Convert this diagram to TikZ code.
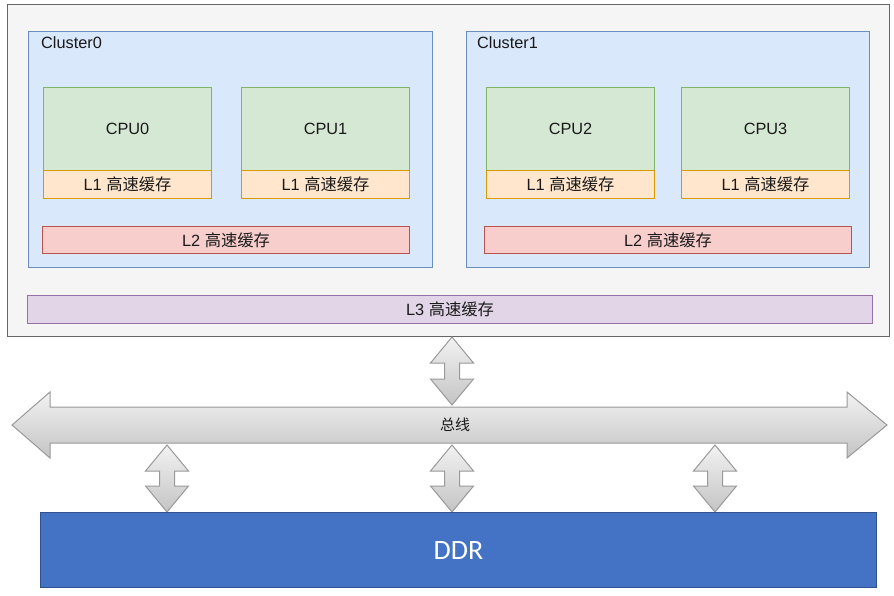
\documentclass[tikz,border=0pt]{standalone}
\usepackage{fontspec}
\setmainfont{Liberation Sans}
\newfontfamily\cjkfont{Noto Sans CJK SC}
\newfontfamily\ddrfont{Carlito}
\usetikzlibrary{positioning}
\definecolor{outerfill}{HTML}{F5F5F5}
\definecolor{outerline}{HTML}{666666}
\definecolor{clfill}{HTML}{DAE8FC}
\definecolor{clline}{HTML}{6C8EBF}
\definecolor{cpufill}{HTML}{D5E8D4}
\definecolor{cpuline}{HTML}{82B366}
\definecolor{lonefill}{HTML}{FFE6CC}
\definecolor{loneline}{HTML}{D79B00}
\definecolor{ltwofill}{HTML}{F8CECC}
\definecolor{ltwoline}{HTML}{B85450}
\definecolor{lthreefill}{HTML}{E1D5E7}
\definecolor{lthreeline}{HTML}{9673A6}
\definecolor{ddrfill}{HTML}{4472C4}
\definecolor{ddrline}{HTML}{2F528F}
\definecolor{arrline}{HTML}{999999}
\definecolor{arrtop}{HTML}{F2F2F2}
\definecolor{arrbot}{HTML}{C4C4C4}
\definecolor{txt}{HTML}{1A1A1A}
\tikzset{
  boxbase/.style={rectangle, anchor=north west, inner sep=0pt, line width=1.1pt, text=txt, font=\fontsize{16.3}{18}\selectfont},
  outerbox/.style={boxbase, fill=outerfill, draw=outerline},
  clusterbox/.style={boxbase, fill=clfill, draw=clline},
  cpubox/.style={boxbase, fill=cpufill, draw=cpuline, minimum width=168pt, minimum height=83pt},
  lonebox/.style={boxbase, fill=lonefill, draw=loneline, minimum width=168pt, minimum height=28pt},
  ltwobox/.style={boxbase, fill=ltwofill, draw=ltwoline, minimum width=367pt, minimum height=27pt},
  lthreebox/.style={boxbase, fill=lthreefill, draw=lthreeline, minimum width=845pt, minimum height=28pt},
  ddrbox/.style={boxbase, fill=ddrfill, draw=ddrline, text=white, font=\ddrfont\fontsize{28}{32}\selectfont},
  arrowshape/.style={draw=arrline, line width=1pt, top color=arrtop, bottom color=arrbot, line join=miter},
  cltext/.style={anchor=north west, inner sep=0pt, text=txt, font=\fontsize{16.3}{18}\selectfont},
}
\newcommand{\cj}[1]{{\cjkfont #1}}
\newcommand{\vdarrow}[3]{% x, ytop, ybottom
  \path[arrowshape] (#1,#2) -- (#1+21.5,#2+26) -- (#1+7.5,#2+26) -- (#1+7.5,#3-26) -- (#1+21.5,#3-26)
    -- (#1,#3) -- (#1-21.5,#3-26) -- (#1-7.5,#3-26) -- (#1-7.5,#2+26) -- (#1-21.5,#2+26) -- cycle;}
\begin{document}
\begin{tikzpicture}[x=1pt,y=-1pt]
\useasboundingbox (0,0) rectangle (894,595);
% outer
\node[outerbox, minimum width=882pt, minimum height=332pt] (outer) at (7,4) {};
% clusters
\node[clusterbox, minimum width=404pt, minimum height=236pt] (cl0) at (28,31) {};
\node[clusterbox, minimum width=403pt, minimum height=236pt] (cl1) at (466,31) {};
\node[cltext] (cl0t) at (41,36.5) {Cluster0};
\node[cltext] (cl1t) at (477,36.5) {Cluster1};
% CPUs
\node[cpubox] (cpu0) at (43,87) {\raisebox{1pt}{CPU0}};
\node[cpubox] (cpu1) at (241,87) {\raisebox{1pt}{CPU1}};
\node[cpubox] (cpu2) at (486,87) {\raisebox{1pt}{CPU2}};
\node[cpubox] (cpu3) at (681,87) {\raisebox{1pt}{CPU3}};
\node[lonebox] (l10) at (43,170) {L1 \cj{高速缓存}};
\node[lonebox] (l11) at (241,170) {L1 \cj{高速缓存}};
\node[lonebox] (l12) at (486,170) {L1 \cj{高速缓存}};
\node[lonebox] (l13) at (681,170) {L1 \cj{高速缓存}};
% L2
\node[ltwobox] (l20) at (42,226) {L2 \cj{高速缓存}};
\node[ltwobox] (l21) at (484,226) {L2 \cj{高速缓存}};
% L3
\node[lthreebox] (l3) at (27,295) {L3 \cj{高速缓存}};
% bus
\path[arrowshape] (12,425) -- (50,392) -- (50,407) -- (847,407) -- (847,392) -- (887,425)
  -- (847,458) -- (847,443) -- (50,443) -- (50,458) -- cycle;
\node[inner sep=0pt, text=txt, font=\cjkfont\fontsize{15}{17}\selectfont] (bus) at (455,425) {总线};
% vertical arrows
\vdarrow{452}{337}{405}
\vdarrow{167}{445}{512}
\vdarrow{452}{445}{512}
\vdarrow{715}{445}{512}
% DDR
\node[ddrbox, minimum width=836pt, minimum height=75pt] (ddr) at (40,512) {DDR};
\end{tikzpicture}
\end{document}
